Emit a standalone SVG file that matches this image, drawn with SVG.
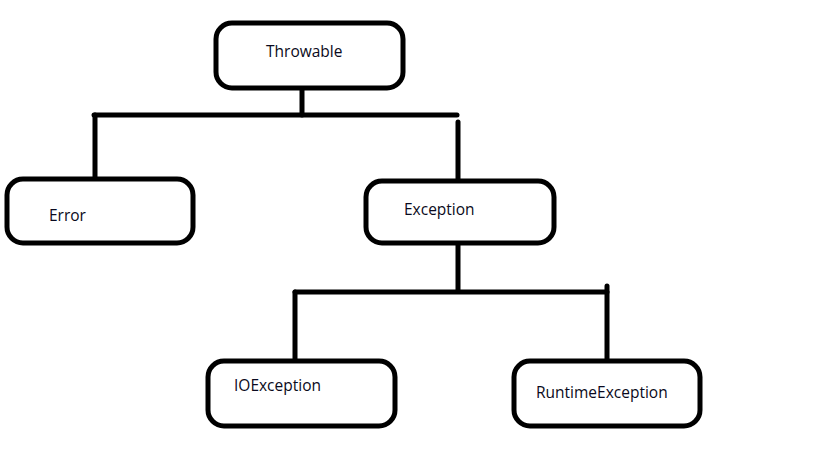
<svg xmlns="http://www.w3.org/2000/svg" width="816" height="471" viewBox="0 0 816 471">
<style>
.box{fill:#fff;stroke:#000;stroke-width:5}
.lbl{font-family:"Open Sans","Noto Sans",sans-serif;font-size:15.5px;fill:#0a0a20}
.ln{stroke:#000;stroke-width:5;fill:none;stroke-linecap:round}
</style>
<rect width="816" height="471" fill="#fff"/>
<g id="connectors">
<line class="ln" x1="302" y1="88" x2="302" y2="115"/>
<line class="ln" x1="94" y1="115" x2="457" y2="115"/>
<line class="ln" x1="95" y1="115" x2="95" y2="178"/>
<line class="ln" x1="458" y1="122" x2="458" y2="180"/>
<line class="ln" x1="458" y1="243" x2="458" y2="291"/>
<line class="ln" x1="295" y1="292" x2="607" y2="292"/>
<line class="ln" x1="295" y1="292" x2="295" y2="360"/>
<line class="ln" x1="607" y1="286" x2="607" y2="360"/>
</g>
<g id="throwable">
<rect class="box" x="216" y="23" width="187" height="65" rx="16"/>
<text class="lbl" x="266" y="57">Throwable</text>
</g>
<g id="error">
<rect class="box" x="7" y="179" width="186" height="64" rx="16"/>
<text class="lbl" x="49" y="221">Error</text>
</g>
<g id="exception">
<rect class="box" x="366" y="181" width="188" height="62" rx="16"/>
<text class="lbl" x="404" y="215">Exception</text>
</g>
<g id="ioexception">
<rect class="box" x="208" y="361" width="187" height="65" rx="16"/>
<text class="lbl" x="234" y="391">IOException</text>
</g>
<g id="runtimeexception">
<rect class="box" x="514" y="361" width="186" height="65" rx="16"/>
<text class="lbl" x="536" y="398">RuntimeException</text>
</g>
</svg>
